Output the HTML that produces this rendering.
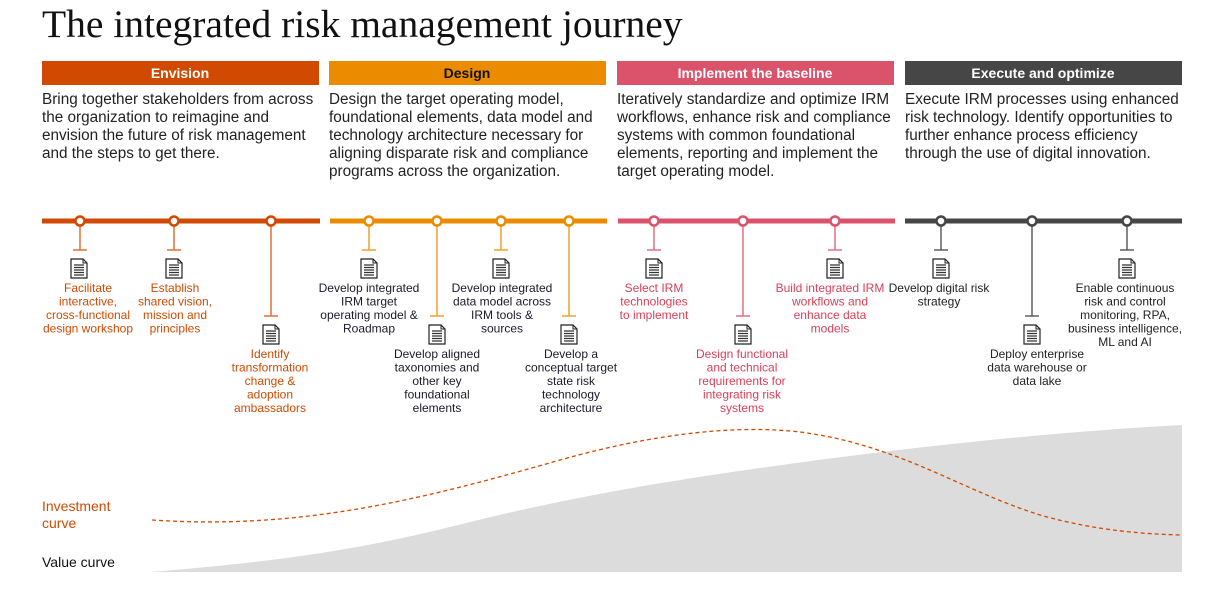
<!DOCTYPE html>
<html><head><meta charset="utf-8"><style>
body{margin:0;background:#fff;width:1223px;height:586px;overflow:hidden;font-family:"Liberation Sans",sans-serif}
</style></head><body>
<svg width="1223" height="586" xmlns="http://www.w3.org/2000/svg" font-family="Liberation Sans, sans-serif">
<defs>
<g id="doc">
<path d="M0,0 H12 L16,4 V19 H0 Z" fill="#fff" stroke="#222" stroke-width="1.2"/>
<path d="M12,0 V4 H16" fill="none" stroke="#222" stroke-width="1"/>
<path d="M3,6 H13 M3,8.5 H13 M3,11 H13 M3,13.5 H13 M3,16 H13" stroke="#333" stroke-width="1.2"/>
</g>
</defs>
<text x="42" y="37" font-family="Liberation Serif, serif" font-size="39.5" fill="#111">The integrated risk management journey</text>

<rect x="42" y="61" width="277" height="24" fill="#D04A02"/>
<rect x="329" y="61" width="277" height="24" fill="#EB8C00"/>
<rect x="617" y="61" width="277" height="24" fill="#DB536A"/>
<rect x="905" y="61" width="277" height="24" fill="#464646"/>
<g font-size="14" font-weight="bold" text-anchor="middle">
<text x="180" y="78" fill="#fff">Envision</text>
<text x="467" y="78" fill="#111">Design</text>
<text x="755" y="78" fill="#fff">Implement the baseline</text>
<text x="1043" y="78" fill="#fff">Execute and optimize</text>
</g>
<g font-size="15.3" fill="#222">
<text x="42" y="104">Bring together stakeholders from across</text>
<text x="42" y="122">the organization to reimagine and</text>
<text x="42" y="140">envision the future of risk management</text>
<text x="42" y="158">and the steps to get there.</text>
<text x="329" y="104">Design the target operating model,</text>
<text x="329" y="122">foundational elements, data model and</text>
<text x="329" y="140">technology architecture necessary for</text>
<text x="329" y="158">aligning disparate risk and compliance</text>
<text x="329" y="176">programs across the organization.</text>
<text x="617" y="104">Iteratively standardize and optimize IRM</text>
<text x="617" y="122">workflows, enhance risk and compliance</text>
<text x="617" y="140">systems with common foundational</text>
<text x="617" y="158">elements, reporting and implement the</text>
<text x="617" y="176">target operating model.</text>
<text x="905" y="104">Execute IRM processes using enhanced</text>
<text x="905" y="122">risk technology. Identify opportunities to</text>
<text x="905" y="140">further enhance process efficiency</text>
<text x="905" y="158">through the use of digital innovation.</text>
</g>

<path d="M150,572 C300,560 380,545 470,522 C560,500 640,485 760,468 C900,448 1050,432 1182,425 V572 Z" fill="#DCDCDC"/>
<path d="M152,520 C300,530 420,500 560,460 C660,432 740,425 800,432 C900,445 960,490 1040,515 C1100,532 1150,534 1180,535" fill="none" stroke="#D04A02" stroke-width="1.3" stroke-dasharray="4,3"/>
<text x="42" y="511" font-size="14" fill="#D04A02">Investment</text>
<text x="42" y="528" font-size="14" fill="#D04A02">curve</text>
<text x="42" y="567" font-size="14" fill="#111">Value curve</text>

<rect x="42" y="218.5" width="278" height="5" fill="#D04A02"/>
<rect x="330" y="218.5" width="277" height="5" fill="#EB8C00"/>
<rect x="618" y="218.5" width="277" height="5" fill="#DB536A"/>
<rect x="905" y="218.5" width="277" height="5" fill="#464646"/>

<g stroke-width="1.5" fill="none">
<g stroke="#E0703A">
<path d="M80,221 V250 M73,250 H87"/><path d="M174,221 V250 M167,250 H181"/><path d="M271,221 V316 M264,316 H278"/>
</g>
<g stroke="#F0A030">
<path d="M369,221 V250 M362,250 H376"/><path d="M437,221 V316 M430,316 H444"/><path d="M501,221 V250 M494,250 H508"/><path d="M569,221 V316 M562,316 H576"/>
</g>
<g stroke="#E07085">
<path d="M654,221 V250 M647,250 H661"/><path d="M743,221 V316 M736,316 H750"/><path d="M835,221 V250 M828,250 H842"/>
</g>
<g stroke="#606060">
<path d="M941,221 V250 M934,250 H948"/><path d="M1032,221 V316 M1025,316 H1039"/><path d="M1127,221 V250 M1120,250 H1134"/>
</g>
</g>
<g fill="#fff" stroke-width="2.5">
<g stroke="#D04A02"><circle cx="80" cy="221" r="4.5"/><circle cx="174" cy="221" r="4.5"/><circle cx="271" cy="221" r="4.5"/></g>
<g stroke="#EB8C00"><circle cx="369" cy="221" r="4.5"/><circle cx="437" cy="221" r="4.5"/><circle cx="501" cy="221" r="4.5"/><circle cx="569" cy="221" r="4.5"/></g>
<g stroke="#DB536A"><circle cx="654" cy="221" r="4.5"/><circle cx="743" cy="221" r="4.5"/><circle cx="835" cy="221" r="4.5"/></g>
<g stroke="#464646"><circle cx="941" cy="221" r="4.5"/><circle cx="1032" cy="221" r="4.5"/><circle cx="1127" cy="221" r="4.5"/></g>
</g>

<use href="#doc" x="71" y="259"/><use href="#doc" x="166" y="259"/><use href="#doc" x="263" y="325"/>
<use href="#doc" x="361" y="259"/><use href="#doc" x="429" y="325"/><use href="#doc" x="493" y="259"/><use href="#doc" x="561" y="325"/>
<use href="#doc" x="646" y="259"/><use href="#doc" x="735" y="325"/><use href="#doc" x="827" y="259"/>
<use href="#doc" x="933" y="259"/><use href="#doc" x="1024" y="325"/><use href="#doc" x="1119" y="259"/>

<g font-size="12" text-anchor="middle">
<g fill="#D04A02">
<text x="88" y="292">Facilitate</text><text x="88" y="305.5">interactive,</text><text x="88" y="319">cross-functional</text><text x="88" y="332.5">design workshop</text>
<text x="175" y="292">Establish</text><text x="175" y="305.5">shared vision,</text><text x="175" y="319">mission and</text><text x="175" y="332.5">principles</text>
<text x="270" y="358">Identify</text><text x="270" y="371.5">transformation</text><text x="270" y="385">change &amp;</text><text x="270" y="398.5">adoption</text><text x="270" y="412">ambassadors</text>
</g>
<g fill="#1a1a2a">
<text x="369" y="292">Develop integrated</text><text x="369" y="305.5">IRM target</text><text x="369" y="319">operating model  &amp;</text><text x="369" y="332.5">Roadmap</text>
<text x="437" y="358">Develop aligned</text><text x="437" y="371.5">taxonomies and</text><text x="437" y="385">other key</text><text x="437" y="398.5">foundational</text><text x="437" y="412">elements</text>
<text x="502" y="292">Develop integrated</text><text x="502" y="305.5">data model across</text><text x="502" y="319">IRM tools &amp;</text><text x="502" y="332.5">sources</text>
<text x="571" y="358">Develop a</text><text x="571" y="371.5">conceptual target</text><text x="571" y="385">state risk</text><text x="571" y="398.5">technology</text><text x="571" y="412">architecture</text>
</g>
<g fill="#DB3E58">
<text x="654" y="292">Select IRM</text><text x="654" y="305.5">technologies</text><text x="654" y="319">to implement</text>
<text x="742" y="358">Design functional</text><text x="742" y="371.5">and technical</text><text x="742" y="385">requirements for</text><text x="742" y="398.5">integrating risk</text><text x="742" y="412">systems</text>
<text x="830" y="292">Build integrated IRM</text><text x="830" y="305.5">workflows and</text><text x="830" y="319">enhance data</text><text x="830" y="332.5">models</text>
</g>
<g fill="#222">
<text x="939" y="292">Develop digital risk</text><text x="939" y="305.5">strategy</text>
<text x="1037" y="358">Deploy enterprise</text><text x="1037" y="371.5">data warehouse or</text><text x="1037" y="385">data lake</text>
<text x="1125" y="292">Enable continuous</text><text x="1125" y="305.5">risk and control</text><text x="1125" y="319">monitoring, RPA,</text><text x="1125" y="332.5">business intelligence,</text><text x="1125" y="346">ML and AI</text>
</g>
</g>
</svg>
</body></html>
